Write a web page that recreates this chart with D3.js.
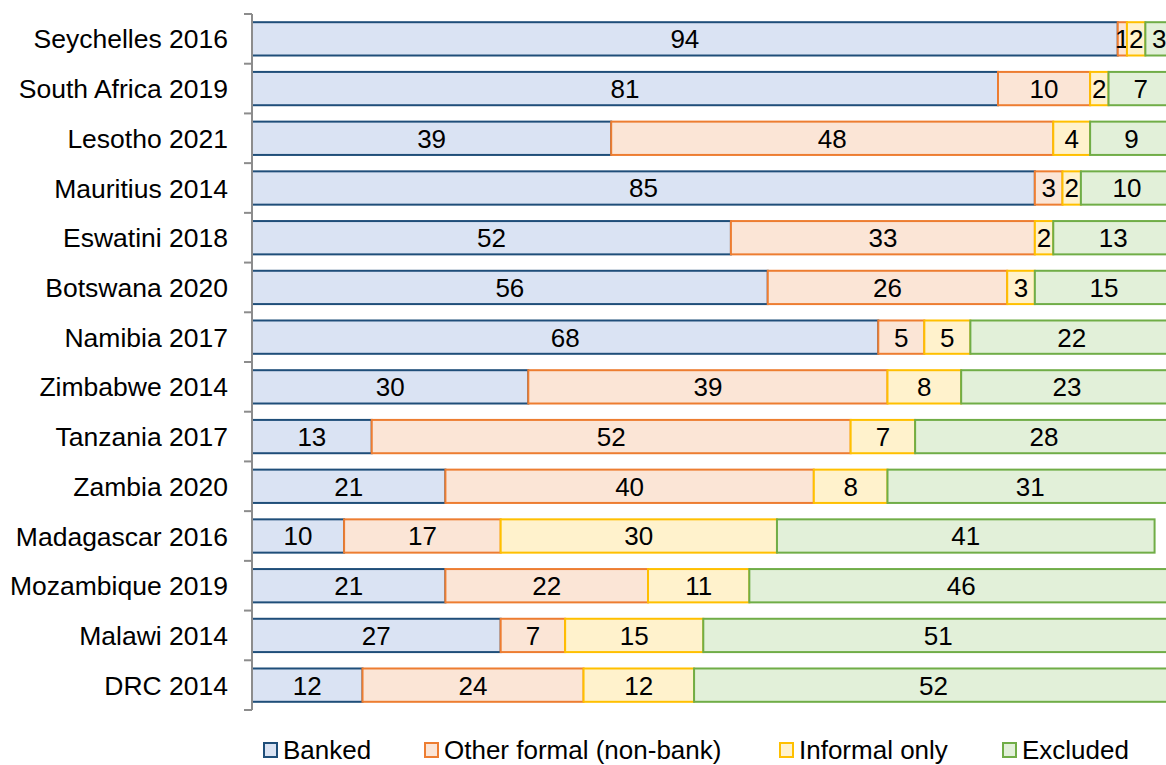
<!DOCTYPE html>
<html>
<head>
<meta charset="utf-8">
<script src="https://cdn.jsdelivr.net/npm/d3@7"></script>
<style>
  html, body { margin: 0; padding: 0; background: #fff; }
  svg { display: block; font-family: "Liberation Sans", Arial, sans-serif; }
</style>
</head>
<body>
<svg id="chart" width="1166" height="765"></svg>
<script>
// Financial inclusion by country-year (% of adults)
const countries = [
  "Seychelles 2016", "South Africa 2019", "Lesotho 2021", "Mauritius 2014",
  "Eswatini 2018", "Botswana 2020", "Namibia 2017", "Zimbabwe 2014",
  "Tanzania 2017", "Zambia 2020", "Madagascar 2016", "Mozambique 2019",
  "Malawi 2014", "DRC 2014"
];
const seriesNames = ["Banked", "Other formal (non-bank)", "Informal only", "Excluded"];
const banked      = [94, 81, 39, 85, 52, 56, 68, 30, 13, 21, 10, 21, 27, 12];
const otherFormal = [1, 10, 48, 3, 33, 26, 5, 39, 52, 40, 17, 22, 7, 24];
const informal    = [2, 2, 4, 2, 2, 3, 5, 8, 7, 8, 30, 11, 15, 12];
const excluded    = [3, 7, 9, 10, 13, 15, 22, 23, 28, 31, 41, 46, 51, 52];

const fills   = ["#dae3f3", "#fbe5d6", "#fff2cc", "#e2f0d9"];
const strokes = ["#1f4e79", "#ed7d31", "#ffc000", "#70ad47"];

const rows = countries.map((c, i) => ({
  country: c, values: [banked[i], otherFormal[i], informal[i], excluded[i]]
}));
const keys = [0, 1, 2, 3];
const stacked = d3.stack()
  .keys(keys)
  .value((d, k) => d.values[k])(rows);

const svg = d3.select("#chart");
const x = d3.scaleLinear().domain([0, 100]).range([252, 1173]);
const y = d3.scaleBand().domain(countries).range([14, 710]).paddingInner(0.33).paddingOuter(0.165);

// Stacked segments
const layers = svg.append("g").selectAll("g")
  .data(stacked).join("g")
  .attr("fill", d => fills[d.key])
  .attr("stroke", d => strokes[d.key])
  .attr("stroke-width", 2);

layers.selectAll("rect")
  .data(d => d.map(s => ({ s, key: d.key })))
  .join("rect")
  .attr("x", d => x(d.s[0]))
  .attr("y", d => y(d.s.data.country))
  .attr("width", d => x(d.s[1]) - x(d.s[0]))
  .attr("height", y.bandwidth());

// Segment value labels
layers.selectAll("text")
  .data(d => d.map(s => ({ s, key: d.key })))
  .join("text")
  .attr("x", d => (x(d.s[0]) + x(d.s[1])) / 2)
  .attr("y", d => y(d.s.data.country) + y.bandwidth() / 2)
  .attr("dy", "0.36em")
  .attr("text-anchor", "middle")
  .attr("fill", "#000")
  .attr("stroke", "none")
  .style("font-size", "26px")
  .text(d => d.s.data.values[d.key]);

// Category axis with boundary ticks
const axisG = svg.append("g");
const step = y.step();
const boundaries = d3.range(countries.length + 1).map(i => 14 + i * step);
axisG.append("line")
  .attr("x1", 252).attr("x2", 252)
  .attr("y1", boundaries[0]).attr("y2", boundaries[boundaries.length - 1])
  .attr("stroke", "#8c8c8c").attr("stroke-width", 2);
axisG.selectAll("line.tick")
  .data(boundaries).join("line")
  .attr("class", "tick")
  .attr("x1", 244).attr("x2", 252)
  .attr("y1", d => d).attr("y2", d => d)
  .attr("stroke", "#8c8c8c").attr("stroke-width", 2);
axisG.selectAll("text")
  .data(countries).join("text")
  .attr("x", 228)
  .attr("y", d => y(d) + y.bandwidth() / 2)
  .attr("dy", "0.36em")
  .attr("text-anchor", "end")
  .style("font-size", "26.5px")
  .attr("fill", "#000")
  .text(d => d);

// Legend
const legendX = [263, 424, 779, 1002];
const legend = svg.append("g").selectAll("g")
  .data(seriesNames).join("g")
  .attr("transform", (d, i) => `translate(${legendX[i]},750)`);
legend.append("rect")
  .attr("x", 1).attr("y", -7).attr("width", 13).attr("height", 14)
  .attr("fill", (d, i) => fills[i])
  .attr("stroke", (d, i) => strokes[i])
  .attr("stroke-width", 2);
legend.append("text")
  .attr("x", 20).attr("y", 0).attr("dy", "0.36em")
  .style("font-size", "26px")
  .attr("fill", "#000")
  .text(d => d);
</script>
</body>
</html>
